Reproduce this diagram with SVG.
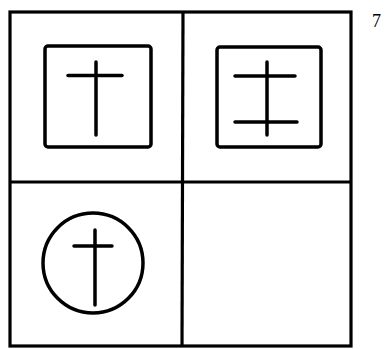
<svg xmlns="http://www.w3.org/2000/svg" width="389" height="349" viewBox="0 0 389 349">
<style>
.frame{fill:none;stroke:#000;stroke-width:3.2}
.sym{fill:none;stroke:#000;stroke-width:3.5;stroke-linecap:round}
.bar{fill:none;stroke:#000;stroke-width:3.5;stroke-linecap:round}
.lbl{font-family:"Liberation Serif",serif;font-size:18px;fill:#000}
</style>
<rect width="389" height="349" fill="#fff"/>
<g id="grid">
<rect class="frame" x="10" y="12" width="341" height="334"/>
<line class="frame" x1="183" y1="12" x2="182" y2="346"/>
<line class="frame" x1="10" y1="182" x2="351" y2="182"/>
</g>
<g id="cell-1">
<rect class="sym" x="45" y="46" width="106" height="101" rx="3"/>
<line class="bar" x1="96" y1="62" x2="96" y2="135"/>
<line class="bar" x1="68" y1="75.5" x2="122" y2="75.5"/>
</g>
<g id="cell-2">
<rect class="sym" x="217" y="47" width="104" height="100" rx="3"/>
<line class="bar" x1="267" y1="62" x2="267" y2="135"/>
<line class="bar" x1="235" y1="76" x2="295" y2="76"/>
<line class="bar" x1="235" y1="122" x2="297" y2="122" stroke-width="3"/>
</g>
<g id="cell-3">
<circle class="sym" cx="93" cy="263" r="50"/>
<line class="bar" x1="95" y1="230" x2="95" y2="305"/>
<line class="bar" x1="74" y1="246" x2="112" y2="246"/>
</g>
<g id="cell-4"></g>
<text class="lbl" x="372" y="27">7</text>
</svg>
